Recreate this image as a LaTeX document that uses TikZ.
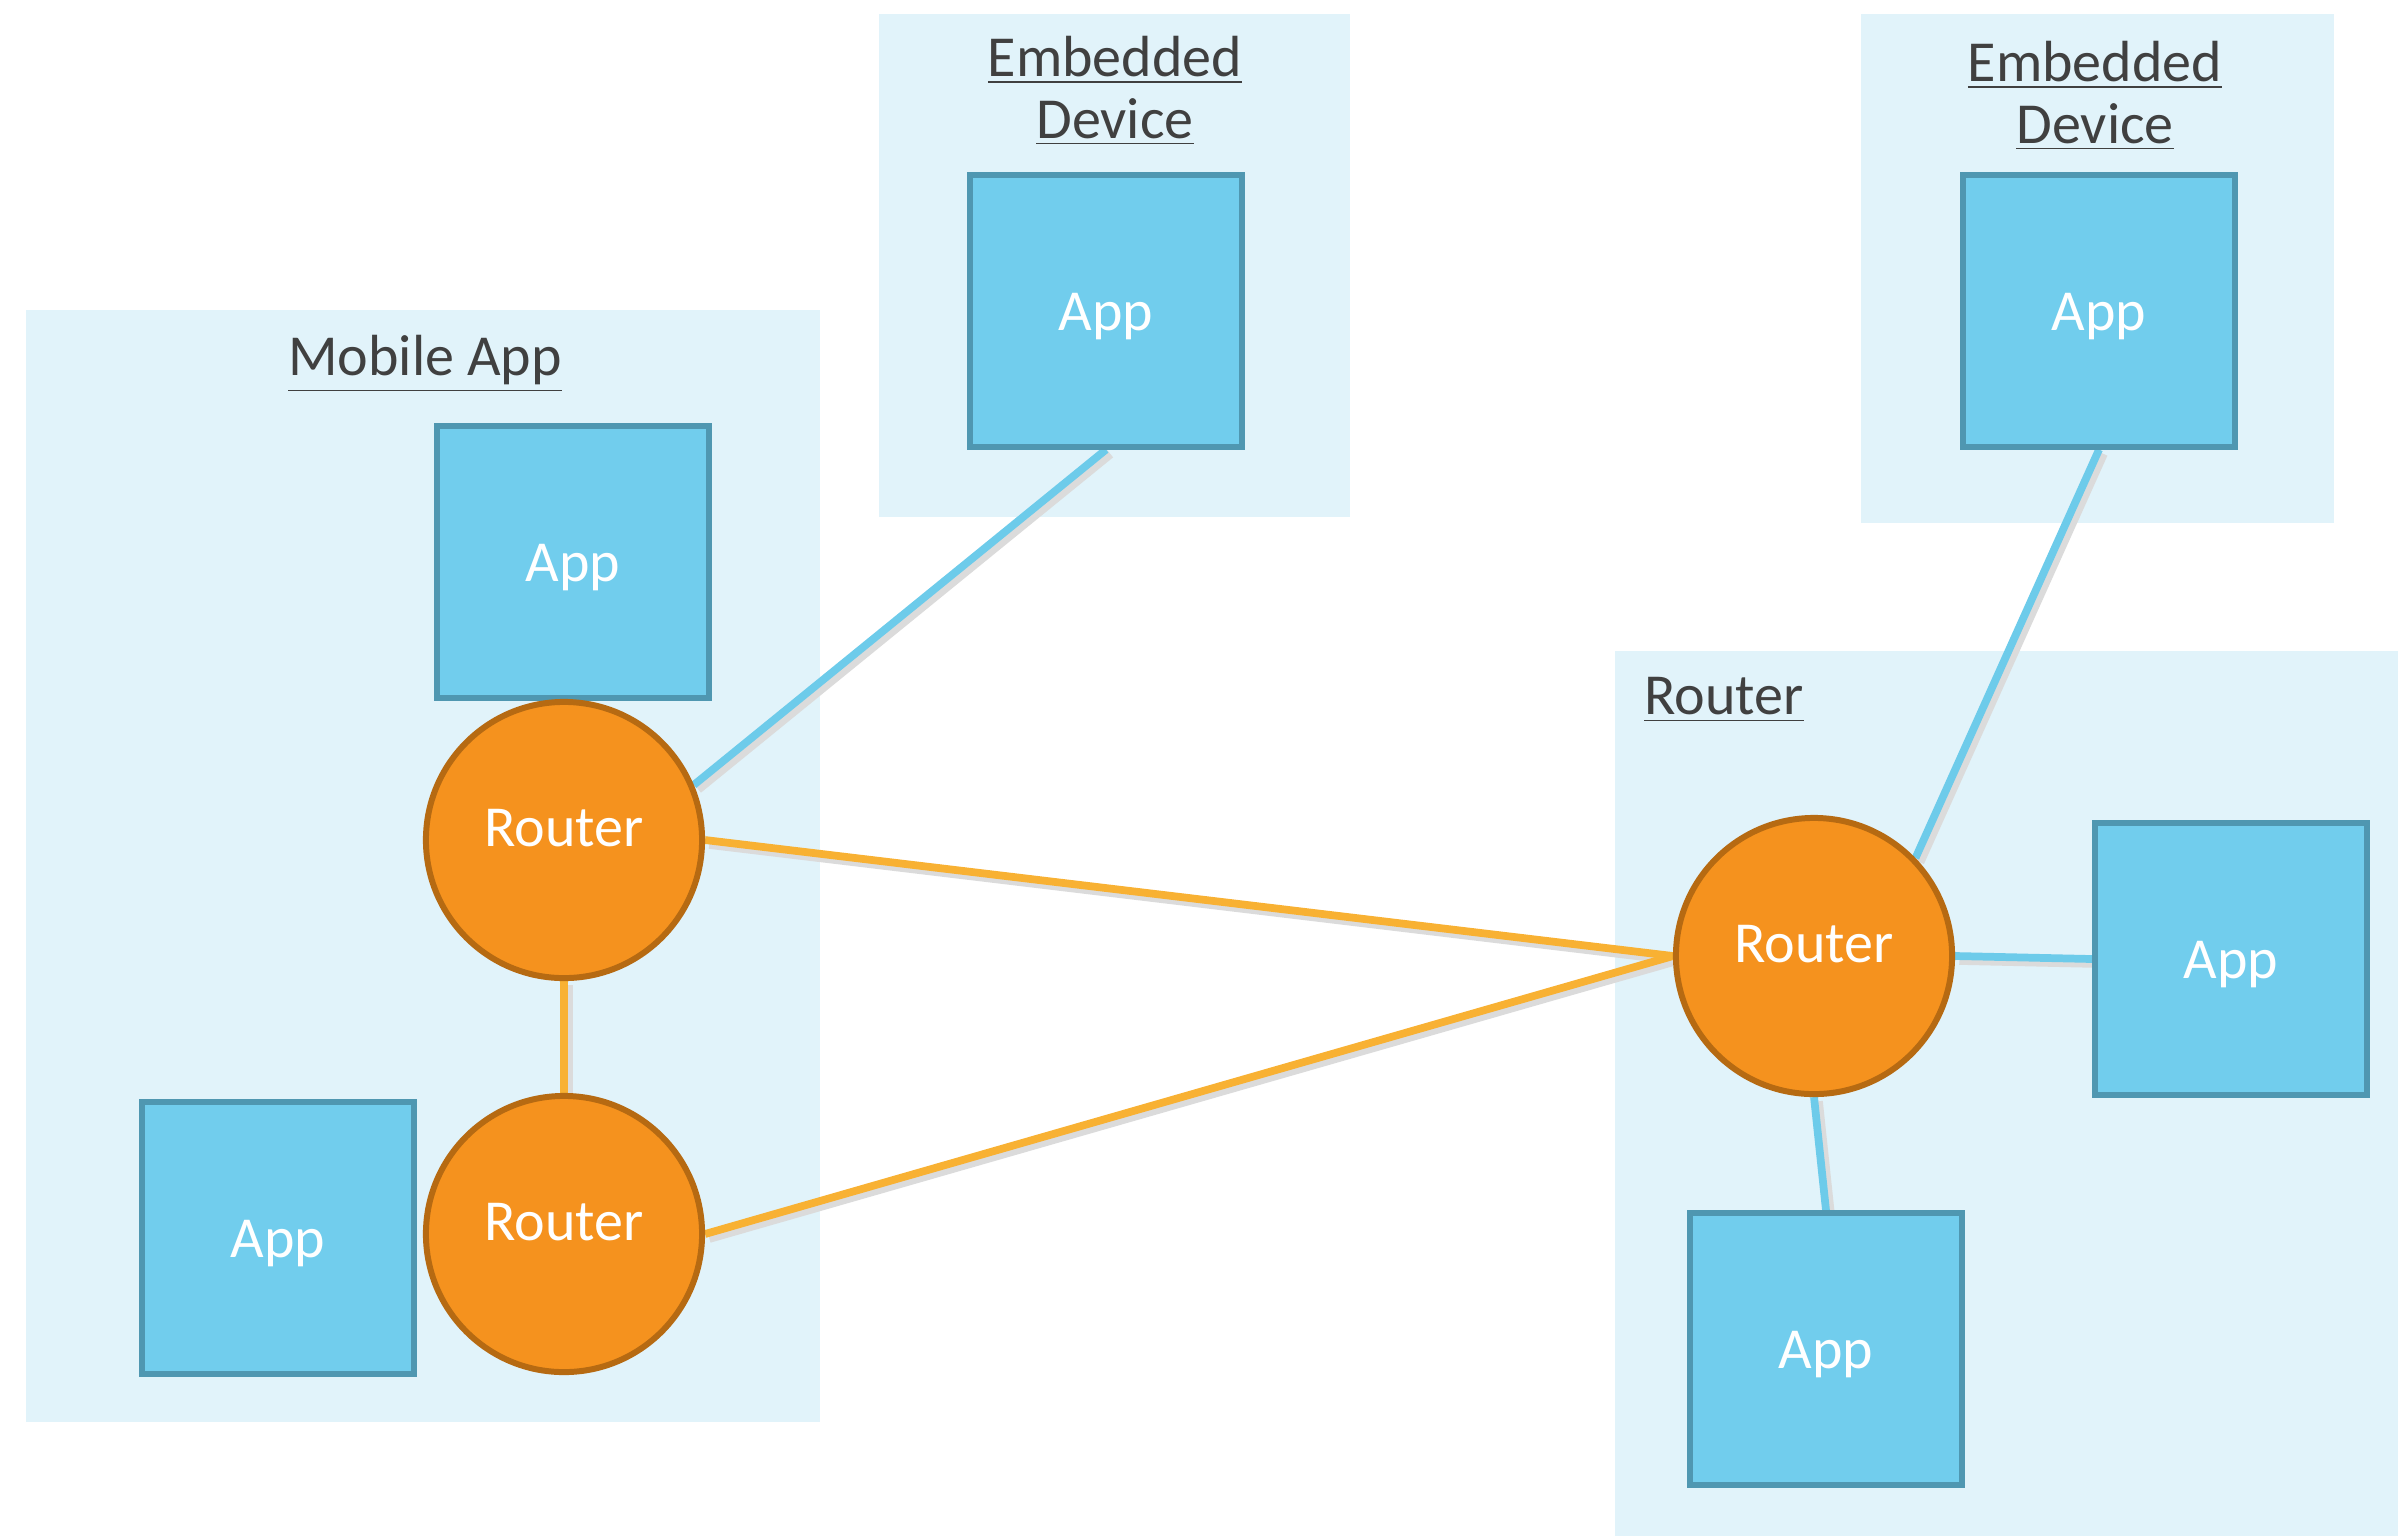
\documentclass[tikz,border=0pt]{standalone}
\usepackage{fontspec}
\setmainfont{Carlito}
\usetikzlibrary{positioning}

\definecolor{panelbg}{HTML}{E1F3FA}
\definecolor{appfill}{HTML}{71CDED}
\definecolor{appedge}{HTML}{4F97B1}
\definecolor{routerfill}{HTML}{F5921E}
\definecolor{routeredge}{HTML}{B66A12}
\definecolor{meshcol}{HTML}{F8B133}
\definecolor{linkcol}{HTML}{6DCBEA}
\definecolor{titlecol}{HTML}{404040}

\pgfdeclarelayer{panels}
\pgfdeclarelayer{links}
\pgfsetlayers{panels,links,main}

\tikzset{
  panel/.style={fill=panelbg},
  app/.style={rectangle, draw=appedge, fill=appfill, line width=1.7pt,
    minimum size=2.71cm, text=white, text height=14pt,
    font=\fontsize{16.5}{20}\selectfont},
  router/.style={circle, draw=routeredge, fill=routerfill, line width=1.7pt,
    minimum size=2.76cm, text=white, text depth=7pt,
    font=\fontsize{16.5}{20}\selectfont},
  title/.style={text=titlecol, align=center, font=\fontsize{16.5}{17.5}\selectfont},
  soft/.style={preaction={draw=black!14, line width=2.6pt,
    transform canvas={shift={(1.2pt,-1.2pt)}}}},
  mesh/.style={soft, draw=meshcol, line width=2.2pt},
  applink/.style={soft, draw=linkcol, line width=2.2pt},
}

\begin{document}
\begin{tikzpicture}[x=0.01cm, y=-0.01cm]
  \useasboundingbox (0,0) rectangle (2398,1536);

  % grey-blue panels
  \begin{pgfonlayer}{panels}
    \fill[panel] (26,310) rectangle (820,1422);
    \fill[panel] (879,14) rectangle (1350,517);
    \fill[panel] (1861,14) rectangle (2334,523);
    \fill[panel] (1615,651) rectangle (2398,1536);
  \end{pgfonlayer}

  \node[title] (t_mobile) at (425,364) {\underline{Mobile App}};
  \node[title] (t_emb1) at (1115,91) {\underline{Embedded}\\\underline{Device}};
  \node[title] (t_emb2) at (2095,96) {\underline{Embedded}\\\underline{Device}};
  \node[title, anchor=west] (t_router) at (1632,700) {\underline{Router}};

  % mobile app side
  \node[app] (app_m1) at (573,562) {App};
  \node[router] (r_m1) at (564,840) {Router};
  \node[router] (r_m2) at (564,1234) {Router};
  \node[app] (app_m2) at (278,1238) {App};

  % embedded devices
  \node[app] (app_e1) at (1106,311) {App};
  \node[app] (app_e2) at (2099,311) {App};

  % router side
  \node[router] (r_hub) at (1814,956) {Router};
  \node[app] (app_h1) at (2231,959) {App};
  \node[app] (app_h2) at (1826,1349) {App};

  % links go under the boxes and circles
  \begin{pgfonlayer}{links}
  \path
    (r_m1.south) edge[mesh] (r_m2.north)
    (r_m1.east) edge[mesh] (r_hub.west)
    (r_m2.east) edge[mesh] (r_hub.west)
    (r_m1.23) edge[applink] (app_e1.south)
    (r_hub.44) edge[applink] (app_e2.south)
    (r_hub.east) edge[applink] (app_h1.west)
    (r_hub.south) edge[applink] (app_h2.north)
    ; %end path
  \end{pgfonlayer}
\end{tikzpicture}
\end{document}
